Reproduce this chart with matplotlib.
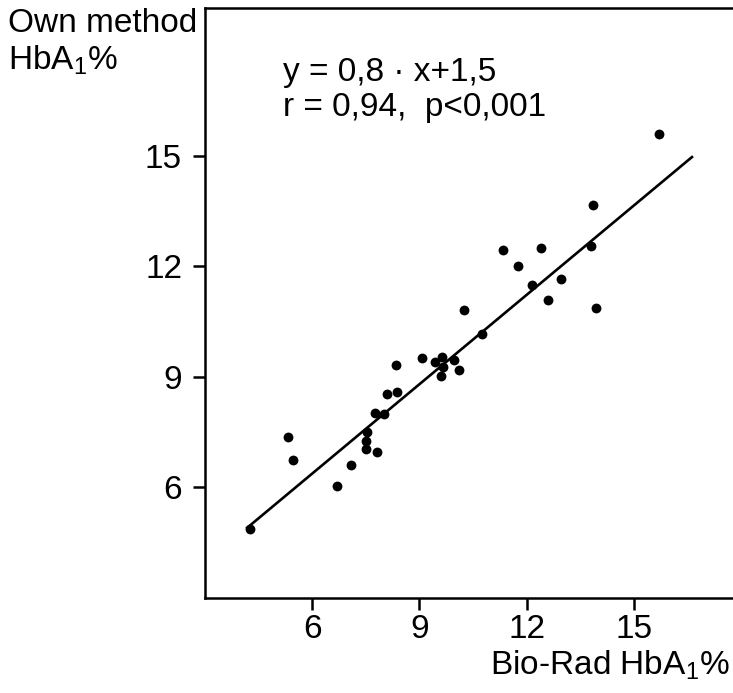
import numpy as np
import matplotlib
matplotlib.use("Agg")
import matplotlib.pyplot as plt

plt.rcParams['font.family'] = ['Liberation Sans', 'DejaVu Sans']
plt.rcParams['mathtext.fontset'] = 'custom'
plt.rcParams['mathtext.rm'] = 'Liberation Sans'

# ----- data -----
# Bio-Rad HbA1 % (x) vs own method HbA1 % (y)
bio_rad = [15.71, 13.84, 11.34, 12.39, 11.75, 13.80, 12.15, 12.96, 12.60, 13.94,
           10.25, 10.75, 9.08, 9.42, 9.62, 9.66, 9.60, 9.96, 10.10, 8.34,
           8.09, 8.36, 7.76, 8.00, 7.53, 7.49, 7.51, 7.80, 7.09, 6.69,
           5.31, 5.47, 4.26]
own_method = [15.59, 13.67, 12.44, 12.49, 11.99, 12.55, 11.50, 11.66, 11.07, 10.86,
              10.82, 10.15, 9.52, 9.39, 9.53, 9.26, 9.03, 9.46, 9.18, 9.31,
              8.54, 8.58, 8.02, 8.00, 7.49, 7.25, 7.05, 6.95, 6.60, 6.03,
              7.36, 6.73, 4.88]

# regression line as drawn
line_x = [4.15, 16.65]
line_y = [4.88, 14.98]

ticks = [6, 9, 12, 15]

# ----- figure -----
W, H = 733, 693
fig = plt.figure(figsize=(W / 100, H / 100), dpi=100)
ax = fig.add_axes([205 / W, 95 / H, 528 / W, 590 / H])

ax.plot(line_x, line_y, color='black', lw=1.9, solid_capstyle='butt')
ax.scatter(bio_rad, own_method, s=50, color='black', zorder=3, linewidths=0)

ax.set_xlim(3, 17.77)
ax.set_ylim(3, 19)
ax.set_xticks(ticks)
ax.set_yticks(ticks)
ax.spines['right'].set_visible(False)
for s in ['left', 'bottom', 'top']:
    ax.spines[s].set_linewidth(1.8)
ax.tick_params(axis='both', direction='out', length=8.5, width=1.8,
               labelsize=24, colors='black')
ax.tick_params(axis='y', pad=8)
ax.tick_params(axis='x', pad=3)

# ----- texts -----
fs = 24
fig.text(8 / W, 1 - 8 / H, 'Own method', fontsize=fs, va='top', ha='left')
fig.text(8 / W, 1 - 43 / H, r'HbA$_\mathregular{1}$%', fontsize=fs, va='top', ha='left')
fig.text(283 / W, 1 - 57 / H, 'y = 0,8 \u00b7 x+1,5', fontsize=fs, va='top', ha='left')
fig.text(283 / W, 1 - 92 / H, 'r = 0,94,  p<0,001', fontsize=fs, va='top', ha='left')
fig.text(730 / W, 1 - 648 / H, r'Bio-Rad HbA$_\mathregular{1}$%', fontsize=fs,
         va='top', ha='right')

fig.savefig('out.png', dpi=100)
